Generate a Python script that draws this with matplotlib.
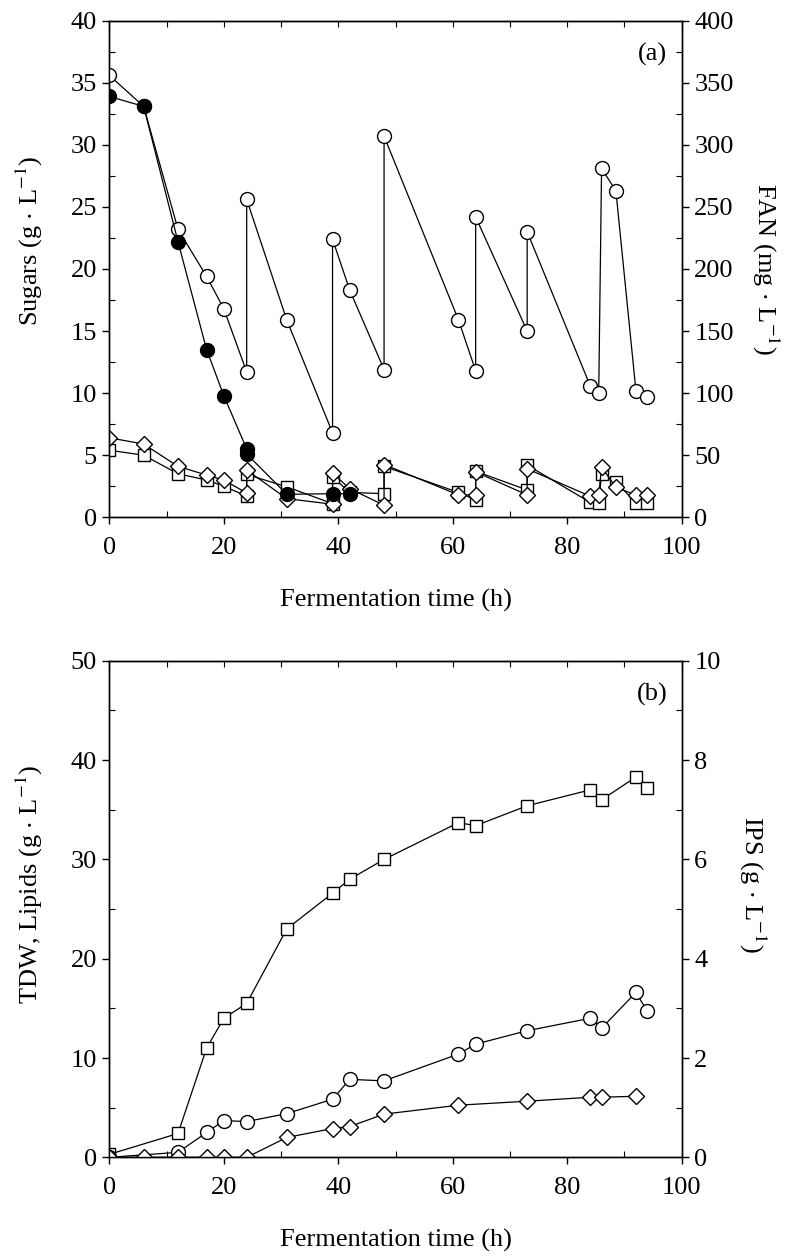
import numpy as np
import matplotlib
matplotlib.use("Agg")
import matplotlib.pyplot as plt
from matplotlib.ticker import MultipleLocator

plt.rcParams['font.family'] = ['Liberation Serif', 'DejaVu Serif']
plt.rcParams['mathtext.fontset'] = 'stix'
plt.rcParams['font.size'] = 19

# (a) sugars and FAN
t_fan = [0, 6, 12, 17, 20, 24, 24, 31, 39, 39, 42, 48, 48, 61, 64, 64, 73, 73, 84, 85.5, 86, 88.5, 92, 94]
fan = [356, 331, 232, 194, 168, 117, 256, 159, 68, 224, 183, 119, 307, 159, 118, 242, 150, 230, 106, 100, 281, 263, 102, 97]

t_glc = [0, 6, 12, 17, 20, 24, 24, 31, 39, 42]
glc = [33.9, 33.1, 22.2, 13.5, 9.8, 5.5, 5.1, 1.85, 1.9, 1.9]

t_xyl = [0, 6, 12, 17, 20, 24, 24, 31, 39, 39, 42, 48, 48, 61, 64, 64, 73, 73, 84, 85.5, 86, 88.5, 92, 94]
xyl = [5.4, 5.0, 3.5, 3.0, 2.5, 1.7, 3.45, 2.45, 1.1, 3.25, 2.0, 1.9, 4.1, 2.0, 1.4, 3.7, 2.2, 4.2, 1.2, 1.15, 3.5, 2.85, 1.15, 1.15]
ara = [6.4, 5.9, 4.1, 3.4, 3.0, 1.95, 3.8, 1.5, 1.05, 3.55, 2.3, 0.97, 4.25, 1.8, 1.8, 3.65, 1.8, 3.9, 1.7, 1.8, 4.05, 2.4, 1.8, 1.8]

# (b) biomass, lipids, IPS
t_b = [0, 12, 17, 20, 24, 31, 39, 42, 48, 61, 64, 73, 84, 86, 92, 94]
tdw = [0.3, 2.4, 11.0, 14.0, 15.5, 23.0, 26.6, 28.0, 30.0, 33.7, 33.4, 35.4, 37.0, 36.0, 38.3, 37.2]
lipids = [0.0, 0.5, 2.5, 3.7, 3.6, 4.4, 5.85, 7.85, 7.7, 10.4, 11.4, 12.75, 14.0, 13.0, 16.6, 14.7]
t_ips = [0, 6, 12, 17, 20, 24, 31, 39, 42, 48, 61, 73, 84, 86, 92]
ips = [0, 0, 0, 0, 0, 0, 0.40, 0.58, 0.62, 0.87, 1.05, 1.13, 1.21, 1.21, 1.23]

lw = 0.9
mk = dict(color='k', lw=lw, mfc='white', mec='k', mew=1.0)

fig = plt.figure(figsize=(7.95, 12.57), dpi=100)
ax1 = fig.add_axes([0.1375, 0.5885, 0.72, 0.395])
ax2 = fig.add_axes([0.1375, 0.0793, 0.72, 0.395])


def style(ax, axr, ymaj, ymin, rmaj, rmin):
    ax.set_xlim(0, 100)
    ax.xaxis.set_major_locator(MultipleLocator(20))
    ax.xaxis.set_minor_locator(MultipleLocator(10))
    ax.yaxis.set_major_locator(MultipleLocator(ymaj))
    ax.yaxis.set_minor_locator(MultipleLocator(ymin))
    ax.tick_params(which='major', direction='out', length=5, width=1, pad=4)
    ax.tick_params(axis='x', which='major', pad=9)
    ax.tick_params(which='minor', direction='in', length=4, width=0.8)
    axr.yaxis.set_major_locator(MultipleLocator(rmaj))
    axr.yaxis.set_minor_locator(MultipleLocator(rmin))
    axr.tick_params(which='major', direction='out', length=5, width=1, pad=4)
    axr.tick_params(which='minor', direction='in', length=4, width=0.8)
    sec = ax.secondary_xaxis('top')
    sec.set_xticks(np.arange(0, 101, 10))
    sec.tick_params(direction='in', length=4, width=0.8, labeltop=False)
    for a in (ax, axr):
        for s in a.spines.values():
            s.set_linewidth(1.0)
    ax.set_xlabel('Fermentation time (h)', labelpad=22)


axr1 = ax1.twinx()
ax1.set_ylim(0, 40)
axr1.set_ylim(0, 400)
axr1.plot(t_fan, fan, marker='o', ms=10, **mk, zorder=2)
ax1.plot(t_xyl, xyl, marker='s', ms=8, **mk)
ax1.plot(t_xyl, ara, marker='D', ms=8, **mk)
axr1.plot(t_glc, [g * 10 for g in glc], marker='o', ms=10, color='k', lw=lw,
          mfc='k', mec='k', zorder=3)
style(ax1, axr1, 5, 2.5, 50, 25)
ax1.set_ylabel(r'Sugars (g $\cdot$ L$^{-1}$)')
ax1.yaxis.set_label_coords(-0.112, 0.556)
axr1.set_ylabel(r'FAN (mg $\cdot$ L$^{-1}$)', rotation=270, labelpad=34)
ax1.text(0.975, 0.955, '(a)', transform=ax1.transAxes, ha='right', va='top')

axr2 = ax2.twinx()
ax2.set_ylim(0, 50)
axr2.set_ylim(0, 10)
ax2.plot(t_b, tdw, marker='s', ms=8, **mk)
ax2.plot(t_b, lipids, marker='o', ms=10, **mk)
axr2.plot(t_ips, ips, marker='D', ms=8, **mk)
style(ax2, axr2, 10, 5, 2, 1)
ax2.set_ylabel(r'TDW, Lipids (g $\cdot$ L$^{-1}$)')
ax2.yaxis.set_label_coords(-0.112, 0.55)
axr2.set_ylabel(r'IPS (g $\cdot$ L$^{-1}$)', rotation=270, labelpad=34)
axr2.yaxis.label.set_y(0.55)
ax2.text(0.975, 0.955, '(b)', transform=ax2.transAxes, ha='right', va='top')

fig.savefig('out.png', dpi=100)
